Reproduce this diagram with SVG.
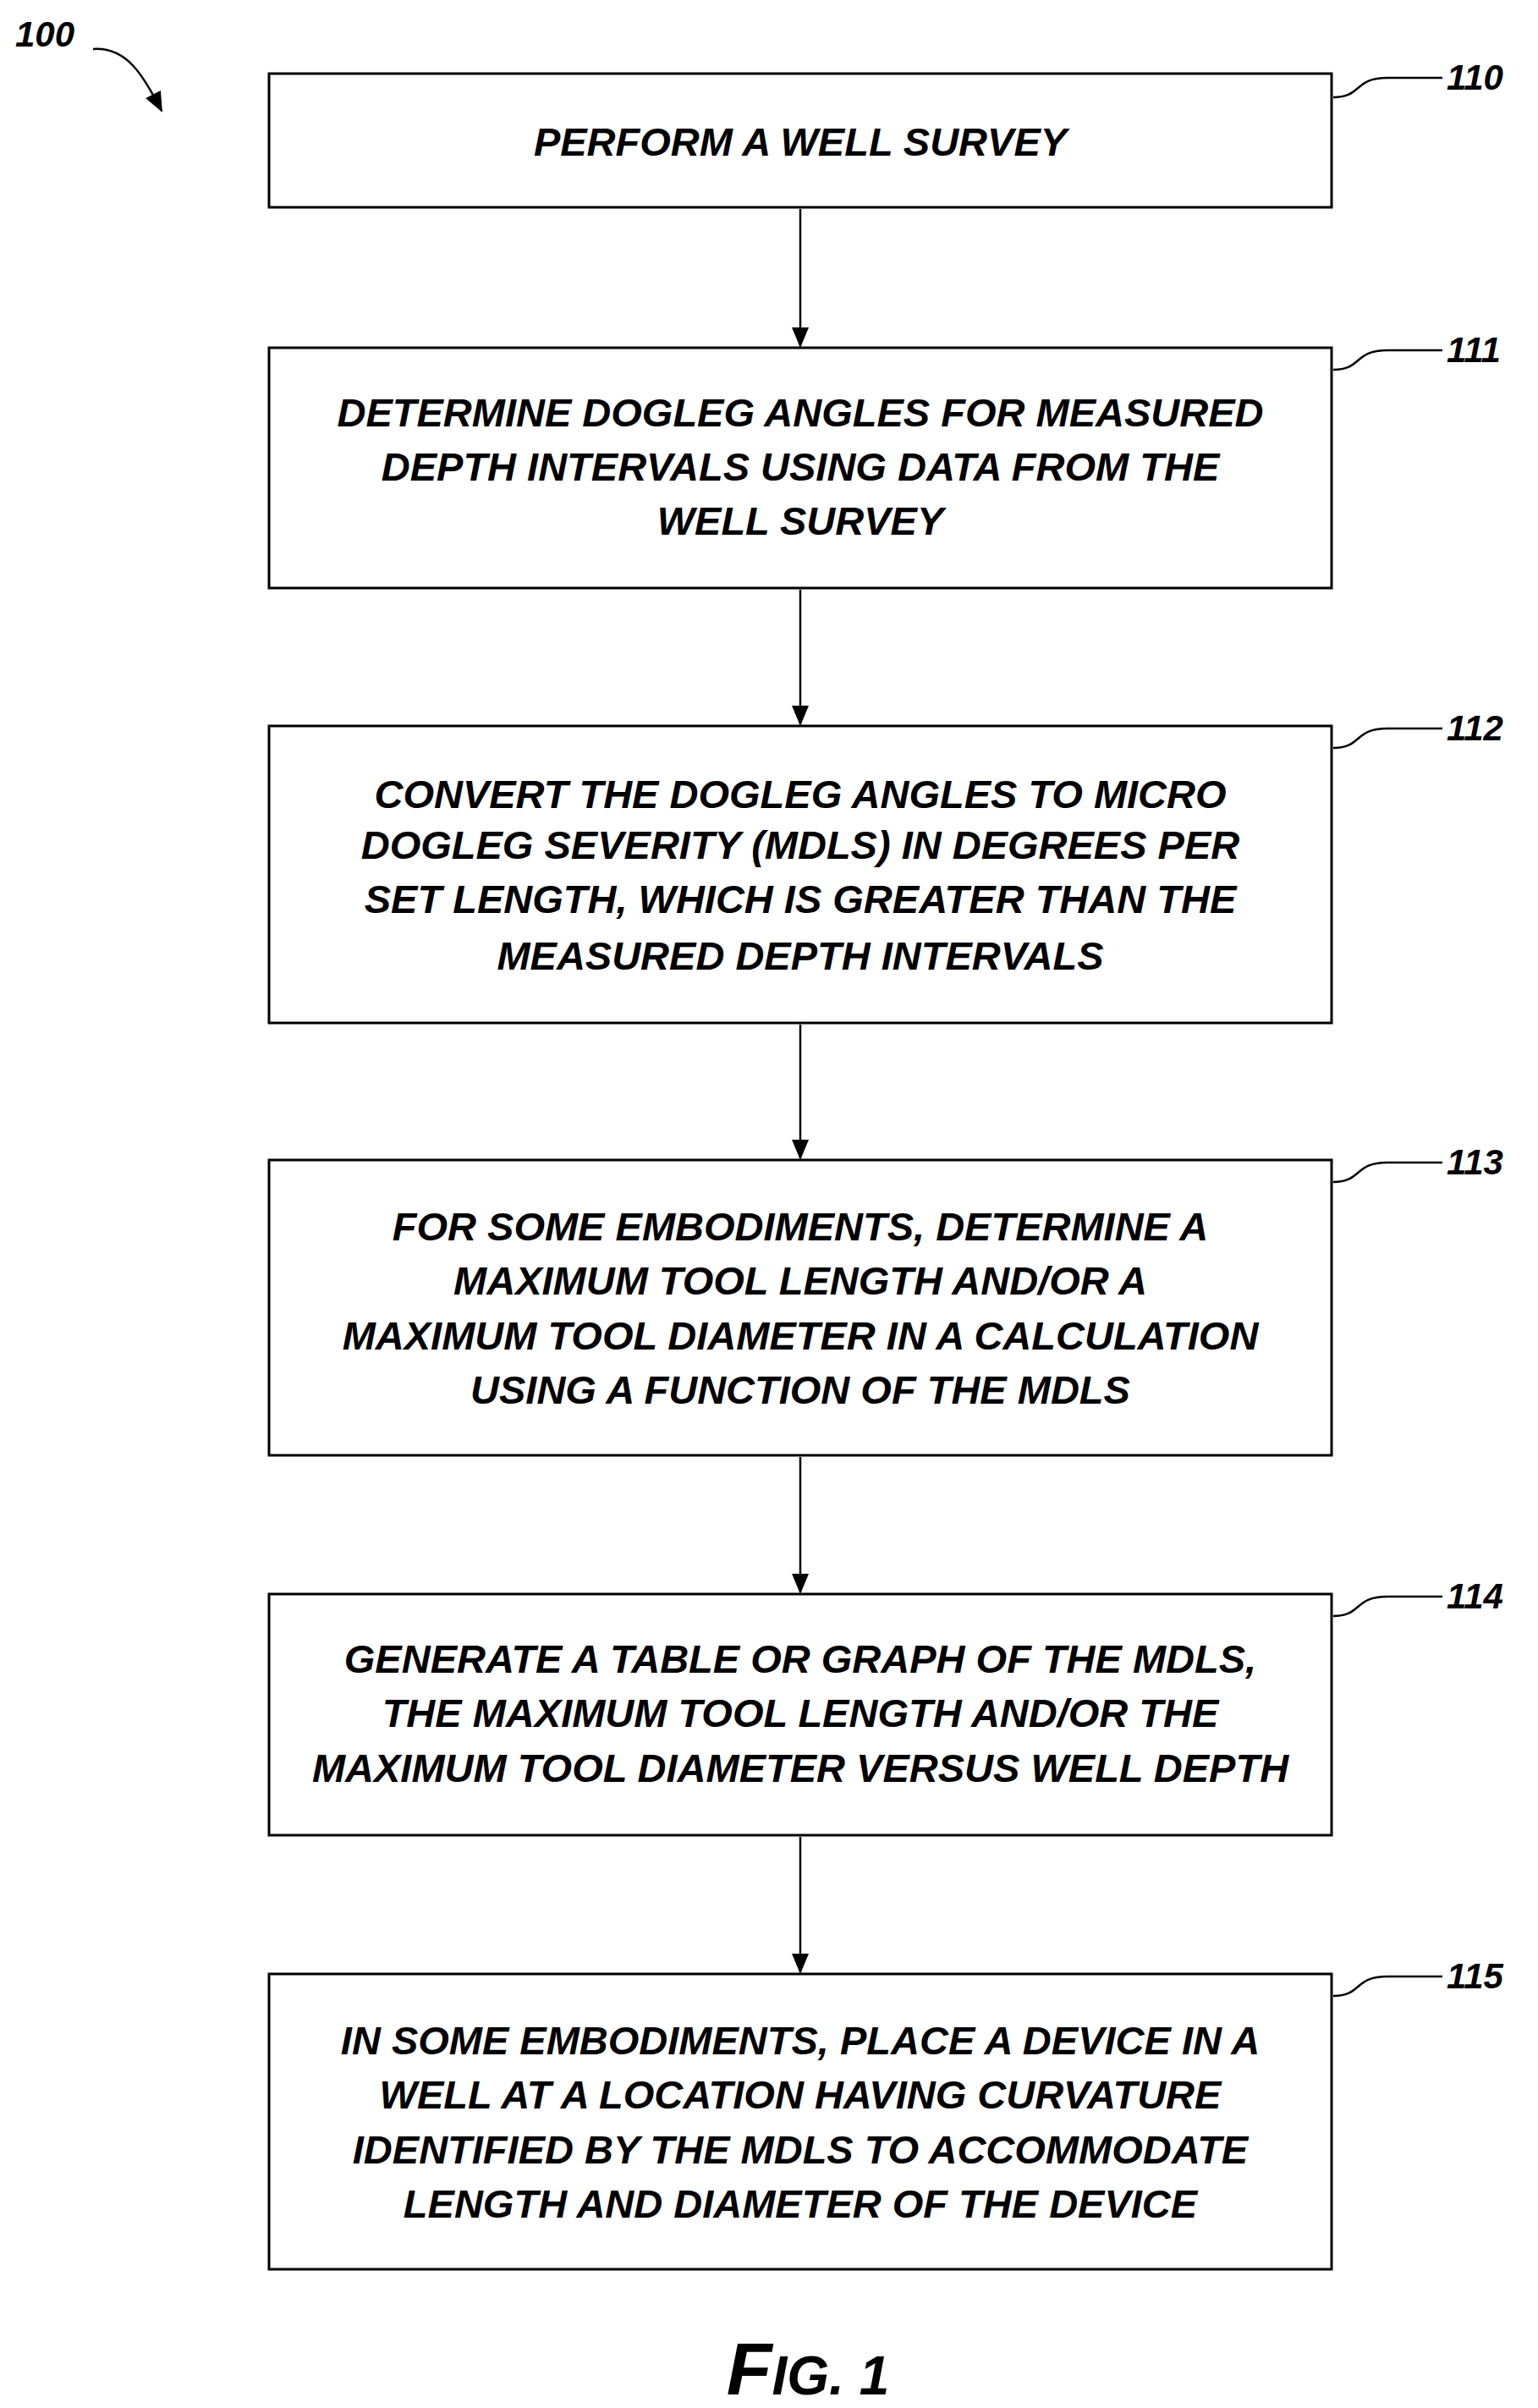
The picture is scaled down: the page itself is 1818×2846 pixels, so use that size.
<svg xmlns="http://www.w3.org/2000/svg" width="1818" height="2846" viewBox="0 0 1818 2846">
<style>
.box{fill:#fff;stroke:#000;stroke-width:3}
.sh{fill:none;stroke:#000;stroke-width:3}
.t{font-family:"Liberation Sans",Arial,sans-serif;font-weight:bold;font-style:italic;font-size:47px;text-anchor:middle;fill:#000}
.lb{font-family:"Liberation Sans",Arial,sans-serif;font-weight:bold;font-style:italic;font-size:42px;fill:#000}
.c{fill:none;stroke:#000;stroke-width:2.5}
</style>
<defs><marker id="a" markerWidth="12" markerHeight="12" refX="10" refY="6" orient="auto" markerUnits="userSpaceOnUse"><path d="M0,0 L12,6 L0,12 Z" fill="#000"/></marker>
<marker id="a2" markerWidth="24" markerHeight="24" refX="22" refY="12" orient="auto" markerUnits="userSpaceOnUse"><path d="M0,2 L24,12 L0,22 Z" fill="#000"/></marker></defs>
<rect width="1818" height="2846" fill="#fff"/>
<g id="connectors">
<line class="c" x1="946" y1="247" x2="946" y2="409" marker-end="url(#a2)"/>
<line class="c" x1="946" y1="697" x2="946" y2="856" marker-end="url(#a2)"/>
<line class="c" x1="946" y1="1211" x2="946" y2="1369" marker-end="url(#a2)"/>
<line class="c" x1="946" y1="1722" x2="946" y2="1882" marker-end="url(#a2)"/>
<line class="c" x1="946" y1="2171" x2="946" y2="2331" marker-end="url(#a2)"/>
<path class="c" d="M1576,115 C1610,115 1600,92 1640,92 L1705,92"/>
<path class="c" d="M1576,437 C1610,437 1600,414 1640,414 L1705,414"/>
<path class="c" d="M1576,884 C1610,884 1600,861 1640,861 L1705,861"/>
<path class="c" d="M1576,1397 C1610,1397 1600,1374 1640,1374 L1705,1374"/>
<path class="c" d="M1576,1910 C1610,1910 1600,1887 1640,1887 L1705,1887"/>
<path class="c" d="M1576,2359 C1610,2359 1600,2336 1640,2336 L1705,2336"/>
<path class="c" d="M110,58 C150,55 170,90 191,131" marker-end="url(#a2)"/>
</g>
<text class="lb" x="18" y="55">100</text>
<g id="n110"><rect class="box" x="318" y="87" width="1256" height="158"/><text class="t" x="946" y="184">PERFORM A WELL SURVEY</text><text class="lb" x="1710" y="106">110</text></g>
<g id="n111"><rect class="box" x="318" y="411" width="1256" height="284"/><text class="t" x="946" y="504">DETERMINE DOGLEG ANGLES FOR MEASURED</text><text class="t" x="946" y="568">DEPTH INTERVALS USING DATA FROM THE</text><text class="t" x="946" y="632">WELL SURVEY</text><text class="lb" x="1710" y="428">111</text></g>
<g id="n112"><rect class="box" x="318" y="858" width="1256" height="351"/><text class="t" x="946" y="955">CONVERT THE DOGLEG ANGLES TO MICRO</text><text class="t" x="946" y="1015">DOGLEG SEVERITY (MDLS) IN DEGREES PER</text><text class="t" x="946" y="1079">SET LENGTH, WHICH IS GREATER THAN THE</text><text class="t" x="946" y="1146">MEASURED DEPTH INTERVALS</text><text class="lb" x="1710" y="875">112</text></g>
<g id="n113"><rect class="box" x="318" y="1371" width="1256" height="349"/><text class="t" x="946" y="1466">FOR SOME EMBODIMENTS, DETERMINE A</text><text class="t" x="946" y="1530">MAXIMUM TOOL LENGTH AND/OR A</text><text class="t" x="946" y="1595">MAXIMUM TOOL DIAMETER IN A CALCULATION</text><text class="t" x="946" y="1659">USING A FUNCTION OF THE MDLS</text><text class="lb" x="1710" y="1388">113</text></g>
<g id="n114"><rect class="box" x="318" y="1884" width="1256" height="285"/><text class="t" x="946" y="1977">GENERATE A TABLE OR GRAPH OF THE MDLS,</text><text class="t" x="946" y="2041">THE MAXIMUM TOOL LENGTH AND/OR THE</text><text class="t" x="946" y="2106">MAXIMUM TOOL DIAMETER VERSUS WELL DEPTH</text><text class="lb" x="1710" y="1901">114</text></g>
<g id="n115"><rect class="box" x="318" y="2333" width="1256" height="349"/><text class="t" x="946" y="2428">IN SOME EMBODIMENTS, PLACE A DEVICE IN A</text><text class="t" x="946" y="2492">WELL AT A LOCATION HAVING CURVATURE</text><text class="t" x="946" y="2557">IDENTIFIED BY THE MDLS TO ACCOMMODATE</text><text class="t" x="946" y="2621">LENGTH AND DIAMETER OF THE DEVICE</text><text class="lb" x="1710" y="2350">115</text></g>
<text x="955" y="2830" font-family="Liberation Sans,Arial,sans-serif" font-weight="bold" font-style="italic" text-anchor="middle" fill="#000"><tspan font-size="88">F</tspan><tspan font-size="64">IG. 1</tspan></text>
</svg>
